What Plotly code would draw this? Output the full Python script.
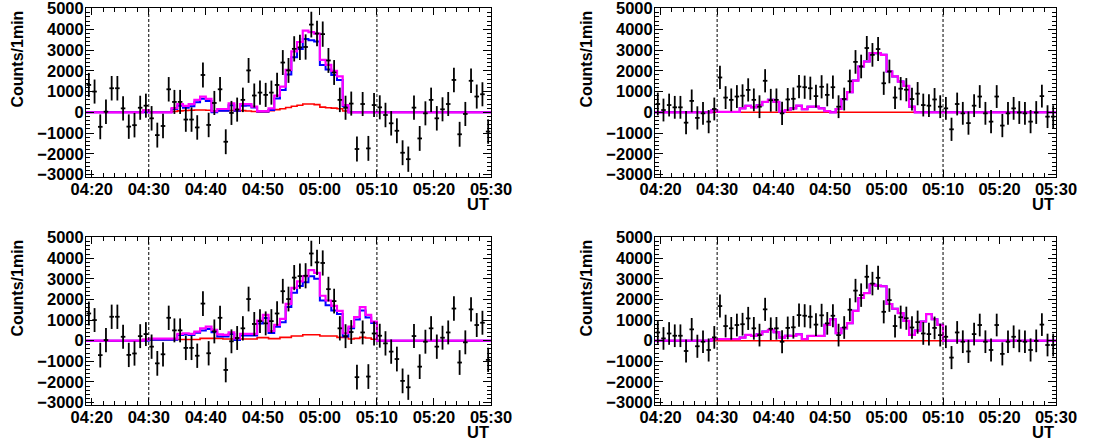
import numpy as np
import plotly.graph_objects as go

# ---- data (1-minute bins from 04:19 to 05:30, UT) ----
bin_start_min = 19          # minutes after 04:00 of first bin edge
n_bins = 71
tick_minutes = [20, 30, 40, 50, 60, 70, 80, 90]
tick_labels = ["04:20", "04:30", "04:40", "04:50", "05:00", "05:10", "05:20", "05:30"]
dashed_minutes = [30, 70]

data_left = [1320, 1000, -700, 30, 1160, 1160, 190, -690, -620, 220,
             320, -290, -1100, -660, 1110, 500, 500, -350, -350, -730,
             1800, -610, 450, 1110, -1420, -30, 130, 600, 2020, 810,
             950, 840, 950, 1320, 2400, 2020, 3060, 3130, 3150, 4230,
             3800, 3770, 2500, 1920, 600, 220, 420, -1770, 400, -1740,
             350, 240, -130, -530, -890, -1950, -2260, 225, -1260, -50,
             600, -290, 145, 400, 1560, -1060, -80, 1520, 760, 870, -930]
err_left = [580, 580, 600, 590, 590, 590, 580, 590, 590, 580,
            580, 590, 600, 590, 590, 580, 580, 590, 590, 590,
            600, 590, 580, 590, 600, 580, 580, 590, 600, 580,
            580, 580, 580, 590, 600, 600, 610, 610, 610, 620,
            610, 610, 600, 600, 590, 580, 580, 600, 580, 600,
            580, 580, 590, 590, 600, 600, 610, 580, 600, 580,
            590, 590, 580, 580, 590, 600, 580, 590, 580, 580, 590]

data_right = [400, 110, 350, 240, 240, -500, 550, -270, -50, -450,
              160, 1680, 710, 600, 760, 800, 1080, 600, 270, 1520,
              580, 600, -50, 620, 650, 1240, 1210, 1160, 780, 1230,
              840, 1210, 270, 640, 1500, 2430, 2210, 3100, 2770, 3050,
              1400, 1970, 710, 1140, 1090, 640, 900, 350, 320, 620,
              270, 190, -820, 400, -50, -520, 320, 760, -50, -450,
              760, -640, -50, 190, -10, -50, -450, -10, 780, -210, -210]
err_right = [550, 550, 550, 550, 550, 560, 550, 560, 550, 560,
             550, 560, 550, 550, 550, 550, 560, 550, 550, 560,
             550, 550, 560, 550, 550, 560, 560, 560, 550, 560,
             550, 560, 550, 550, 560, 570, 570, 580, 570, 580,
             560, 570, 550, 560, 560, 550, 560, 550, 550, 550,
             550, 550, 560, 550, 550, 560, 550, 550, 550, 560,
             550, 560, 550, 550, 550, 550, 560, 550, 550, 550, 550]

zeros10 = [0] * 10

# top-left model
tl_red = zeros10 + [100, 0, 0, 0, 0, 40, 70, 90, 100, 110, 110, 100, 60, 80, 80, 90, 70, 80,
                    60, 40, 20, 20, 80, 130, 170, 230, 290, 340, 400, 400, 370, 250, 220, 200,
                    170, 60] + [0] * 25
tl_blue = zeros10 + [0, 0, 0, 0, 0, 160, 320, 220, 290, 490, 650, 550, 0, 80, 80, 340, 75, 310,
                     330, 230, 40, 40, 110, 670, 1070, 1820, 2650, 3050, 3540, 3470, 3420, 2280,
                     2070, 1800, 1560, 290] + [0] * 25
tl_total = zeros10 + [100, 0, 0, 0, 0, 200, 390, 310, 390, 600, 760, 650, 60, 160, 160, 430, 145,
                      390, 390, 270, 60, 60, 190, 800, 1240, 2050, 2940, 3390, 3940, 3870, 3790,
                      2530, 2290, 2000, 1730, 350] + [0] * 25

# top-right model
tr_red = [0] * 71
tr_blue = zeros10 + [100, 20, 20, 20, 20, 190, 310, 240, 340, 500, 600, 500, 30, 110, 190, 320, 150,
                     270, 270, 190, 60, 0, 160, 630, 970, 1530, 2210, 2450, 2850, 2850, 2770, 1970,
                     1730, 1480, 1270, 270] + [0] * 25
tr_total = zeros10 + [100, 20, 20, 20, 20, 190, 310, 240, 340, 500, 600, 500, 30, 110, 190, 320, 150,
                      270, 270, 190, 60, 0, 160, 630, 970, 1530, 2210, 2450, 2850, 2850, 2770, 1970,
                      1730, 1480, 1270, 270] + [0] * 25

# bottom-left model
bl_red = zeros10 + [50, 50, 50, 50, 50, 50, 60, 60, 60, 60, 110, 110, 110, 110, 80, 80, 80, 80, 80,
                    80, 150, 150, 100, 100, 160, 160, 230, 230, 290, 290, 290, 230, 230, 230, 160,
                    160, 80, 110, 160, 130, 70] + [0] * 20
bl_blue = zeros10 + [0, 50, 50, 50, 50, 50, 270, 300, 270, 380, 490, 570, 410, 200, 200, 320, 30, 250,
                     250, 250, 830, 1100, 370, 670, 900, 1630, 2330, 2650, 2840, 3130, 3000, 1950,
                     1720, 1460, 1290, 200, 600, 1030, 1470, 1120, 860] + [0] * 20
bl_total = zeros10 + [50, 100, 100, 100, 100, 100, 330, 360, 330, 440, 600, 680, 520, 310, 280, 400,
                      110, 330, 330, 330, 980, 1250, 470, 770, 1060, 1790, 2560, 2880, 3130, 3420,
                      3290, 2180, 1950, 1690, 1450, 360, 680, 1140, 1630, 1250, 930] + [0] * 20

# bottom-right model
br_red = [0] * 71
br_blue = zeros10 + [80, 80, 80, 80, 80, 150, 280, 230, 310, 440, 520, 410, 150, 240, 230, 310, 80,
                     230, 230, 230, 770, 1040, 360, 600, 850, 1450, 2070, 2310, 2720, 2670, 2640,
                     1780, 1550, 1340, 960, 280, 490, 930, 1290, 1040, 770] + [0] * 20
br_total = zeros10 + [80, 80, 80, 80, 80, 150, 280, 230, 310, 440, 520, 410, 150, 240, 230, 310, 80,
                      230, 230, 230, 770, 1040, 360, 600, 850, 1450, 2070, 2310, 2720, 2670, 2640,
                      1780, 1550, 1340, 960, 280, 490, 930, 1290, 1040, 770] + [0] * 20

y_title = "Counts/1min"
x_title = "UT"

# ---- layout geometry (pixels) ----
W, H = 1104, 442
col_px = [(86, 491), (655, 1056)]
row_px = [(8, 177), (237, 405)]

edges = bin_start_min + np.arange(n_bins + 1)
centers = bin_start_min + np.arange(n_bins) + 0.5

panels = [
    (0, 0, data_left, err_left, tl_red, tl_blue, tl_total),
    (0, 1, data_right, err_right, tr_red, tr_blue, tr_total),
    (1, 0, data_left, err_left, bl_red, bl_blue, bl_total),
    (1, 1, data_right, err_right, br_red, br_blue, br_total),
]

fig = go.Figure()
font_family = "Liberation Sans, Arial, Helvetica, sans-serif"
tickfont = dict(family=font_family, size=16.5, color="black", weight="bold")

for k, (r, c, dat, err, red, blue, tot) in enumerate(panels):
    idx = "" if k == 0 else str(k + 1)
    xa, ya = "x" + idx, "y" + idx
    for vals, col, w in [(red, "#ff0000", 1.6), (blue, "#0000ff", 2.0), (tot, "#ff00ff", 2.2)]:
        fig.add_trace(go.Scatter(
            x=edges, y=list(vals) + [vals[-1]], mode="lines",
            line=dict(color=col, width=w, shape="hv"),
            xaxis=xa, yaxis=ya, showlegend=False, hoverinfo="skip"))
    fig.add_trace(go.Scatter(
        x=centers, y=dat, mode="markers",
        marker=dict(size=1, color="black"),
        error_y=dict(type="data", array=err, color="black", thickness=1.8, width=0),
        error_x=dict(type="constant", value=0.4, color="black", thickness=1.8, width=0),
        xaxis=xa, yaxis=ya, showlegend=False))

    x0, x1 = col_px[c]
    y0, y1 = row_px[r]
    xdom = [x0 / W, x1 / W]
    ydom = [1 - y1 / H, 1 - y0 / H]
    fig.layout["xaxis" + idx] = dict(
        domain=xdom, anchor=ya, range=[edges[0], edges[-1]], automargin=False,
        tickmode="array", tickvals=tick_minutes, ticktext=tick_labels,
        ticks="inside", ticklen=7, tickwidth=1, tickcolor="black",
        minor=dict(ticks="inside", ticklen=4, dtick=2, tick0=0, tickcolor="black"),
        showline=True, linecolor="black", linewidth=1, mirror="ticks",
        showgrid=False, zeroline=False, tickfont=tickfont, ticklabelstandoff=-3,
        ticklabeloverflow="allow")
    fig.layout["yaxis" + idx] = dict(
        domain=ydom, anchor=xa, range=[-3120, 5030], automargin=False,
        tickmode="linear", tick0=0, dtick=1000,
        ticks="inside", ticklen=8, tickwidth=1, tickcolor="black",
        minor=dict(ticks="inside", ticklen=4, dtick=200, tick0=0, tickcolor="black"),
        showline=True, linecolor="black", linewidth=1, mirror="ticks",
        showgrid=False, zeroline=False, tickfont=tickfont, ticklabelstandoff=-2,
        ticklabeloverflow="allow")

    for dm in dashed_minutes:
        fig.add_shape(type="line", x0=dm, x1=dm, y0=0, y1=1, xref=xa, yref=ya + " domain",
                      line=dict(color="black", width=1, dash="3px,2px"))

    title_x = (17 if c == 0 else 586) / W
    fig.add_annotation(text=y_title, xref="paper", yref="paper", x=title_x, y=1 - (y0 + 1) / H,
                       xanchor="center", yanchor="top", textangle=-90, showarrow=False,
                       font=dict(family=font_family, size=16, color="black", weight="bold"))
    fig.add_annotation(text=x_title, xref="paper", yref="paper", x=x1 / W, y=1 - (y1 + 27) / H,
                       xanchor="right", yanchor="middle", showarrow=False,
                       font=dict(family=font_family, size=16.5, color="black", weight="bold"))

fig.update_layout(width=W, height=H, margin=dict(l=0, r=0, t=0, b=0, pad=0),
                  paper_bgcolor="white", plot_bgcolor="white", showlegend=False)

fig.write_html("out.html", config={"displayModeBar": False},
               post_script="document.body.style.margin='0';document.body.style.overflow='hidden';")
